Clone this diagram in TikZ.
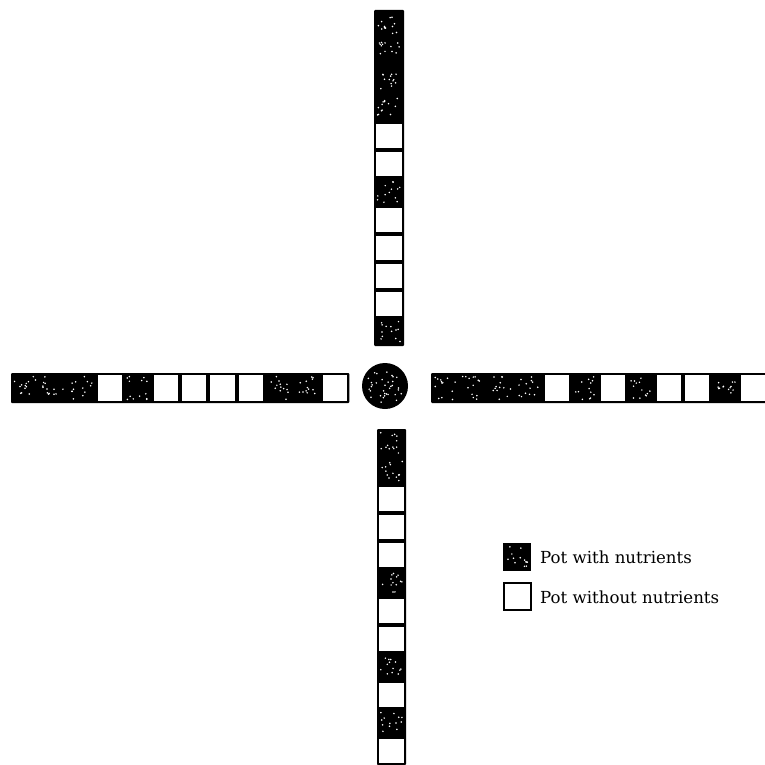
\documentclass[tikz,border=0pt]{standalone}
\usepackage{fontspec}
\setmainfont{DejaVu Serif}
\usetikzlibrary{calc}
\newcommand\mydots[4]{% x0 y0 w h
  \foreach \k in {1,...,13}{%
    \pgfmathsetmacro\dx{#1+3.5+rnd*(#3-7)}%
    \pgfmathsetmacro\dy{#2+3.5+rnd*(#4-7)}%
    \fill[white] (\dx,\dy) circle (0.85pt);
  }%
}
% vertical arm: x0, x1, ystart, step, list of types
\newcommand\varm[5]{%
  \fill[black,rounded corners=1pt] (#1,#3) rectangle (#2,{#3+12*#4});
  \foreach \t [count=\i from 0] in {#5}{%
    \pgfmathsetmacro\ya{#3+\i*#4}%
    \if W\t
      \fill[white] (#1+2,\ya+2) rectangle (#2-2,\ya+#4-2);
    \else
      \mydots{#1}{\ya}{#2-#1}{#4}
    \fi
  }%
}
% horizontal arm: y0, y1, xstart, step, list
\newcommand\harm[5]{%
  \fill[black,rounded corners=1pt] (#3,#1) rectangle ({#3+12*#4},#2);
  \foreach \t [count=\i from 0] in {#5}{%
    \pgfmathsetmacro\xa{#3+\i*#4}%
    \if W\t
      \fill[white] (\xa+2,#1+2) rectangle (\xa+#4-2,#2-2);
    \else
      \mydots{\xa}{#1}{#4}{#2-#1}
    \fi
  }%
}
\begin{document}
\begin{tikzpicture}[x=1pt,y=-1pt,
  legendtext/.style={anchor=base west,inner sep=0pt,font=\fontsize{16.6}{19}\selectfont}]
\useasboundingbox (0,0) rectangle (764,765);
\fill[white] (0,0) rectangle (764,765);
\pgfmathsetseed{11}
% top arm
\varm{374}{404}{10}{28}{D,D,D,D,W,W,D,W,W,W,W,D}
% bottom arm
\varm{377}{406}{429}{28}{D,D,W,W,W,D,W,W,D,W,D,W}
% left arm (from outer end)
\harm{373}{403}{11}{28.2}{D,D,D,W,D,W,W,W,W,D,D,W}
% right arm
\harm{373}{403}{431}{28}{D,D,D,D,W,D,W,D,W,W,D,W}
% centre
\node[circle,fill=black,minimum size=46pt,inner sep=0pt] (centre) at (385,386) {};
\foreach \k in {1,...,34}{%
  \pgfmathsetmacro\ang{rnd*360}\pgfmathsetmacro\rr{sqrt(rnd)*19}%
  \fill[white] ($(centre)+(\ang:\rr)$) circle (0.85pt);
}
% legend
\node[fill=black,minimum size=28pt,inner sep=0pt] (keyd) at (517,557) {};
\mydots{503}{543}{28}{28}
\node[draw=black,line width=1.6pt,fill=white,minimum size=27pt,inner sep=0pt] (keyw) at (517.5,596.5) {};
\node[legendtext] (lab1) at (540,563) {Pot with nutrients};
\node[legendtext] (lab2) at (540,603) {Pot without nutrients};
\end{tikzpicture}
\end{document}
